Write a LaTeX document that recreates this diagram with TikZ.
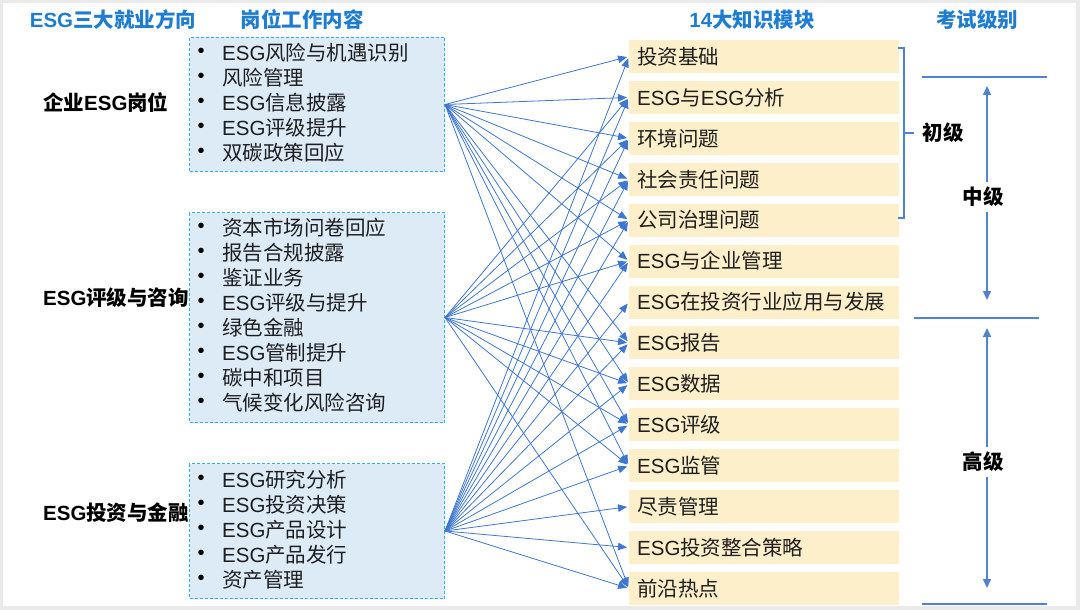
\documentclass[tikz,border=0pt]{standalone}
\usepackage{fontspec}
\setmainfont{Noto Sans CJK SC}
\newfontfamily\lat{Liberation Sans}
\usetikzlibrary{arrows.meta}
\newcommand\esgx{{\lat ESG}}
\definecolor{ttl}{RGB}{30,125,210}
\definecolor{dashc}{RGB}{40,180,235}
\definecolor{boxf}{RGB}{221,235,247}
\definecolor{modf}{RGB}{253,239,202}
\definecolor{conn}{RGB}{62,118,212}
\definecolor{lvl}{RGB}{80,130,210}
\definecolor{framec}{RGB}{234,234,234}
\definecolor{txt}{RGB}{30,30,30}
\begin{document}
\begin{tikzpicture}[x=1pt,y=-1pt,
 title/.style={font=\fontsize{20.5}{24}\selectfont\bfseries, text=ttl, inner sep=0pt},
 role/.style={font=\fontsize{20.5}{24}\selectfont\bfseries, anchor=west, inner sep=0pt, text=black},
 jobbox/.style={draw=dashc, dash pattern=on 3pt off 2pt, line width=1pt, fill=boxf, anchor=north west, inner sep=0pt, minimum width=255pt},
 item/.style={font=\fontsize{20.5}{24}\selectfont, anchor=west, inner sep=0pt, text=txt},
 bul/.style={font=\fontsize{20}{22}\selectfont\lat, inner sep=0pt, text=black},
 module/.style={fill=modf, anchor=west, minimum height=33pt, text width=254pt, inner xsep=8pt, inner ysep=0pt, align=left, font=\fontsize{20.5}{24}\selectfont, text=txt},
 link/.style={draw=conn, line width=0.8pt, -{Triangle[length=9pt,width=7.5pt]}, shorten >=2pt},
 lvline/.style={draw=lvl, line width=1.5pt},
 brk/.style={draw=lvl, line width=1.2pt},
 lvarrow/.style={draw=lvl, line width=1.5pt, {Triangle[length=9pt,width=8pt]}-{Triangle[length=9pt,width=8pt]}},
 lvtext/.style={font=\fontsize{20.5}{24}\selectfont\bfseries, fill=white, inner xsep=1pt, inner ysep=5pt, text=black}
]
\useasboundingbox (0,0) rectangle (1080,610);
\fill[framec] (0,0) rectangle (1080,610);
\fill[white] (3,3) rectangle (1076,606);

% titles
\node[title] (t1) at (113,20) {\esgx 三大就业方向};
\node[title] (t2) at (302,20) {岗位工作内容};
\node[title] (t3) at (752,20) {{\lat 14}大知识模块};
\node[title] (t4) at (977,20) {考试级别};

% role labels
\node[role] (r1) at (43,103) {企业\esgx 岗位};
\node[role] (r2) at (43,298) {\esgx 评级与咨询};
\node[role] (r3) at (43,513) {\esgx 投资与金融};

% job boxes
\node[jobbox, minimum height=134pt] (box1) at (189,37) {};
\node[jobbox, minimum height=210pt] (box2) at (189,212) {};
\node[jobbox, minimum height=135pt] (box3) at (189,463) {};

\foreach \t [count=\i] in {{\esgx 风险与机遇识别},风险管理,{\esgx 信息披露},{\esgx 评级提升},双碳政策回应} {
  \node[bul] (bA\i) at (201,{28+25*\i}) {•};
  \node[item] (tA\i) at (222,{28+25*\i}) {\t};
}
\foreach \t [count=\i] in {资本市场问卷回应,报告合规披露,鉴证业务,{\esgx 评级与提升},绿色金融,{\esgx 管制提升},碳中和项目,气候变化风险咨询} {
  \node[bul] (bB\i) at (201,{203+25*\i}) {•};
  \node[item] (tB\i) at (222,{203+25*\i}) {\t};
}
\foreach \t [count=\i] in {{\esgx 研究分析},{\esgx 投资决策},{\esgx 产品设计},{\esgx 产品发行},资产管理} {
  \node[bul] (bC\i) at (201,{455+25*\i}) {•};
  \node[item] (tC\i) at (222,{455+25*\i}) {\t};
}

% modules
\foreach \t [count=\j] in {投资基础,{\esgx 与\esgx 分析},环境问题,社会责任问题,公司治理问题,{\esgx 与企业管理},{\esgx 在投资行业应用与发展},{\esgx 报告},{\esgx 数据},{\esgx 评级},{\esgx 监管},尽责管理,{\esgx 投资整合策略},前沿热点} {
  \node[module] (m\j) at (629,{56.5+(\j-1)*40.92}) {\t};
}

% connectors
\foreach \j in {1,2,3,4,5,6,8,9,10,11,14} \draw[link] (box1.east) -- (m\j.west);
\foreach \j in {2,3,4,5,6,8,9,10,11,14} \draw[link] (box2.east) -- (m\j.west);
\foreach \j in {1,...,14} \draw[link] (box3.east) -- (m\j.west);

% bracket for 初级
\coordinate (k1) at (898,48);
\coordinate (k2) at (904,48);
\coordinate (k3) at (904,218);
\coordinate (k4) at (898,218);
\coordinate (k5) at (904,133);
\coordinate (k6) at (914,133);
\draw[brk] (k1) -- (k2) -- (k3) -- (k4);
\draw[brk] (k5) -- (k6);
\node[font=\fontsize{20.5}{24}\selectfont\bfseries, inner sep=0pt] (cj) at (943,133) {初级};

% level lines
\coordinate (h1a) at (922,77);   \coordinate (h1b) at (1047,77);
\coordinate (h2a) at (914,318);  \coordinate (h2b) at (1039,318);
\coordinate (h3a) at (922,604);  \coordinate (h3b) at (1047,604);
\draw[lvline] (h1a) -- (h1b);
\draw[lvline] (h2a) -- (h2b);
\draw[lvline] (h3a) -- (h3b);

% level arrows
\coordinate (zt) at (987,86);  \coordinate (zb) at (987,300);
\coordinate (gt) at (987,328); \coordinate (gb) at (987,588);
\draw[lvarrow] (zt) -- (zb);
\draw[lvarrow] (gt) -- (gb);
\node[lvtext] (zj) at (983,197) {中级};
\node[lvtext] (gj) at (983,462) {高级};
\end{tikzpicture}
\end{document}
